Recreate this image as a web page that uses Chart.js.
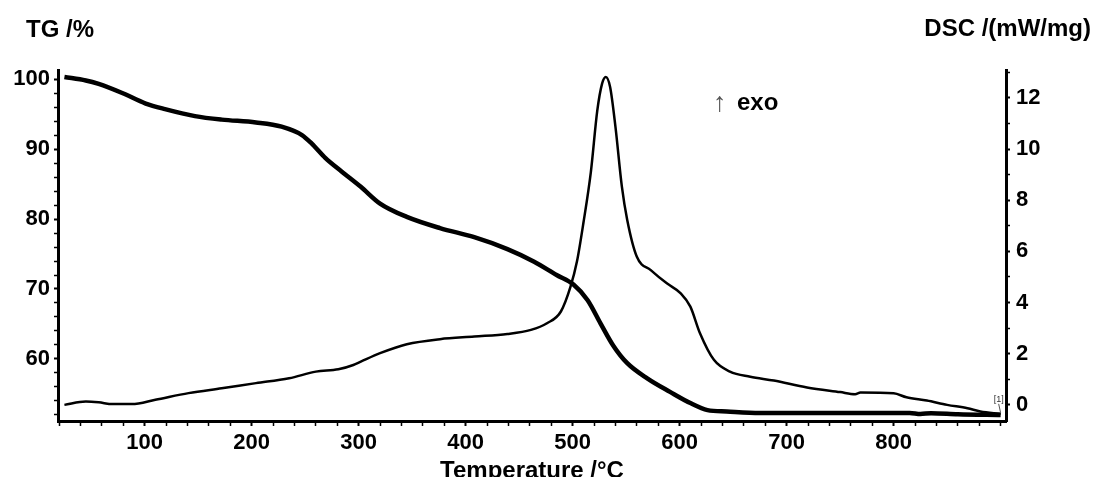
<!DOCTYPE html>
<html lang="en">
<head>
    <meta charset="UTF-8">
    <title>TG / DSC</title>
    <script src="https://cdn.jsdelivr.net/npm/chart.js"></script>
    <style>
        body { margin: 0; background: #fff; }
        #wrap { width: 1093px; height: 477px; position: relative; }
    </style>
</head>
<body>
    <div id="wrap"><canvas id="chart"></canvas></div>

    <script>
        // TG curve (temperature in °C, mass in %)
        const tgTemp = [25, 45, 57, 79, 101, 119, 147, 172, 204, 228, 247, 256, 269, 284, 302, 320, 345, 376, 408, 439, 464, 485, 501, 514, 526, 538, 551, 570, 591, 610, 626, 644, 675, 750, 815, 825, 835, 860, 900];
        const tgValue = [100.3, 99.8, 99.3, 98.0, 96.5, 95.7, 94.7, 94.2, 93.8, 93.2, 92.0, 90.8, 88.7, 86.8, 84.6, 82.2, 80.3, 78.7, 77.4, 75.7, 73.9, 72.0, 70.6, 68.4, 65.1, 61.9, 59.4, 57.2, 55.3, 53.7, 52.7, 52.5, 52.3, 52.3, 52.3, 52.15, 52.25, 52.1, 52.0];

        // DSC curve (temperature in °C, heat flow in mW/mg)
        const dscTemp = [25, 45, 57, 70, 88, 110, 141, 172, 204, 235, 260, 281, 295, 302, 320, 345, 376, 408, 439, 461, 476, 489, 498, 504, 510, 517, 523, 527.5, 531, 535, 540, 546, 551, 560, 573, 588, 601, 610, 619, 632, 647, 666, 688, 719, 750, 764, 769, 800, 812, 831, 850, 869, 881, 900];
        const dscValue = [0, 0.13, 0.1, 0.03, 0.03, 0.2, 0.46, 0.65, 0.85, 1.04, 1.3, 1.39, 1.56, 1.69, 2.02, 2.37, 2.57, 2.67, 2.77, 2.93, 3.19, 3.65, 4.62, 5.6, 7.1, 9.1, 11.5, 12.56, 12.82, 12.43, 10.87, 8.53, 7.23, 5.79, 5.27, 4.75, 4.36, 3.84, 2.8, 1.76, 1.3, 1.1, 0.95, 0.68, 0.5, 0.42, 0.48, 0.45, 0.3, 0.17, 0.0, -0.13, -0.26, -0.35];

        // labelled ticks
        const xTickLabels = [100, 200, 300, 400, 500, 600, 700, 800];
        const tgTickLabels = [60, 70, 80, 90, 100];
        const dscTickLabels = [0, 2, 4, 6, 8, 10, 12];

        const FONT = "'Liberation Sans', Arial, sans-serif";
        const tickFont = { family: FONT, size: 22, weight: 'bold' };

        const toPoints = (xs, ys) => xs.map((x, i) => ({ x: x, y: ys[i] }));

        const textPlugin = {
            id: 'texts',
            afterDraw(chart) {
                const ctx = chart.ctx;
                const area = chart.chartArea;
                ctx.save();
                ctx.fillStyle = '#000';
                ctx.textBaseline = 'alphabetic';
                ctx.font = "bold 24px " + FONT;
                ctx.textAlign = 'left';
                ctx.fillText('TG /%', 26, 37);
                ctx.textAlign = 'right';
                ctx.fillText('DSC /(mW/mg)', 1091, 36);
                ctx.textAlign = 'center';
                ctx.fillText('Temperature /°C', (area.left + area.right) / 2, 478);
                ctx.textAlign = 'left';
                ctx.fillText('exo', 737, 110);
                ctx.fillStyle = '#555';
                ctx.font = "27px " + FONT;
                ctx.fillText('↑', 713, 111);

                // [1] marker at the end of the curves
                const xs = chart.scales.x, ys = chart.scales.y2;
                const ex = xs.getPixelForValue(dscTemp[dscTemp.length - 1]);
                const ey = ys.getPixelForValue(dscValue[dscValue.length - 1]);
                ctx.font = "9px " + FONT;
                ctx.fillStyle = '#333';
                ctx.textAlign = 'center';
                ctx.fillText('[1]', ex - 2, ey - 12);
                ctx.strokeStyle = '#555';
                ctx.lineWidth = 1;
                ctx.beginPath();
                ctx.moveTo(ex - 2, ey - 10);
                ctx.lineTo(ex, ey - 1);
                ctx.stroke();
                ctx.restore();
            }
        };

        const tickWidth = (list) => (c) => list.includes(c.tick && c.tick.value) ? 2 : 1.5;

        new Chart(document.getElementById('chart'), {
            type: 'line',
            data: {
                datasets: [
                    {
                        label: 'TG',
                        data: toPoints(tgTemp, tgValue),
                        yAxisID: 'y',
                        borderColor: '#000',
                        borderWidth: 4.5,
                        pointRadius: 0,
                        cubicInterpolationMode: 'monotone'
                    },
                    {
                        label: 'DSC',
                        data: toPoints(dscTemp, dscValue),
                        yAxisID: 'y2',
                        borderColor: '#000',
                        borderWidth: 2.5,
                        pointRadius: 0,
                        cubicInterpolationMode: 'monotone'
                    }
                ]
            },
            options: {
                responsive: true,
                maintainAspectRatio: false,
                animation: false,
                layout: { padding: { top: 70, left: 0, right: 0, bottom: 0 } },
                plugins: { legend: { display: false }, tooltip: { enabled: false } },
                scales: {
                    x: {
                        type: 'linear',
                        min: 19,
                        max: 905,
                        afterFit: s => { s.height = 56; },
                        border: { color: '#000', width: 3 },
                        grid: { drawOnChartArea: false, tickLength: 5, tickColor: '#000', tickWidth: tickWidth(xTickLabels) },
                        ticks: {
                            stepSize: 20,
                            includeBounds: false,
                            autoSkip: false,
                            maxRotation: 0,
                            padding: 4,
                            color: '#000',
                            font: tickFont,
                            callback: v => xTickLabels.includes(v) ? String(v) : ''
                        }
                    },
                    y: {
                        position: 'left',
                        min: 51.14,
                        max: 101.29,
                        afterFit: s => { s.width = 58; },
                        border: { color: '#000', width: 3 },
                        grid: { drawOnChartArea: false, tickLength: 4, tickColor: '#000', tickWidth: tickWidth(tgTickLabels) },
                        ticks: {
                            stepSize: 2,
                            includeBounds: false,
                            autoSkip: false,
                            padding: 4,
                            color: '#000',
                            font: tickFont,
                            callback: v => tgTickLabels.includes(v) ? String(v) : ''
                        }
                    },
                    y2: {
                        position: 'right',
                        min: -0.63,
                        max: 13.09,
                        afterFit: s => { s.width = 87; },
                        border: { color: '#000', width: 3 },
                        grid: { drawOnChartArea: false, tickLength: 4, tickColor: '#000', tickWidth: tickWidth(dscTickLabels) },
                        ticks: {
                            stepSize: 1,
                            includeBounds: false,
                            autoSkip: false,
                            padding: 6,
                            color: '#000',
                            font: tickFont,
                            callback: v => dscTickLabels.includes(v) ? String(v) : ''
                        }
                    }
                }
            },
            plugins: [textPlugin]
        });
    </script>
</body>
</html>
